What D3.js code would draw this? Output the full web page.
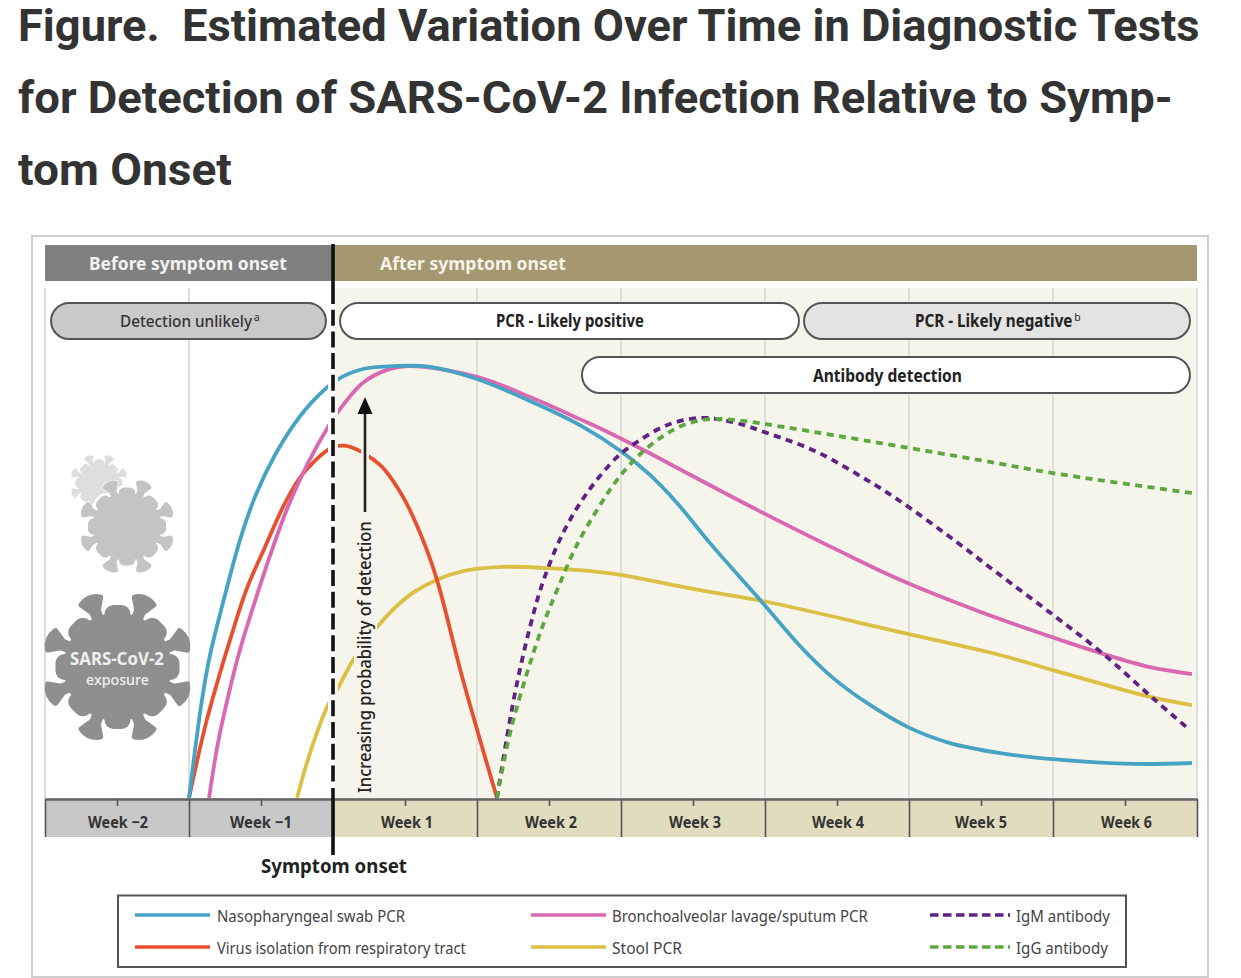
<!DOCTYPE html>
<html>
<head>
<meta charset="utf-8">
<script src="https://cdn.jsdelivr.net/npm/d3@7"></script>
<style>
  html, body { margin: 0; padding: 0; background: #fff; }
  svg { display: block; }
  text { font-family: "Noto Sans", "Open Sans", sans-serif; }
  text.title { font-family: Roboto, "Noto Sans", sans-serif; }
</style>
</head>
<body>
<svg id="svg" width="1241" height="978"></svg>
<script>
// Weeks relative to symptom onset, probability relative to the highest peak
const naso_t = [-1, -0.958, -0.91, -0.854, -0.75, -0.646, -0.542, -0.403, -0.264, -0.125, 0.028, 0.208, 0.444, 0.674, 1, 1.368, 1.715, 2.007, 2.201, 2.389, 2.618, 2.986, 3.243, 3.472, 3.708, 3.993, 4.285, 4.632, 5, 5.556, 5.965];
const naso_p = [0, 11.1, 22.7, 33.1, 47, 59.7, 69.7, 79.4, 86.8, 92.4, 96.8, 99.3, 100, 99.8, 97, 91.9, 86.3, 80.1, 74.8, 68.3, 59, 45.1, 35.2, 27.8, 22, 16.4, 12.7, 10.4, 9, 7.9, 8.1];

const balf_t = [-0.861, -0.799, -0.729, -0.646, -0.521, -0.424, -0.313, -0.174, -0.035, 0.028, 0.208, 0.375, 0.535, 1, 1.368, 1.715, 1.854, 2.153, 2.549, 2.986, 3.472, 3.938, 4.493, 5.049, 5.326, 5.674, 5.965];
const balf_p = [0, 12.7, 23.4, 34.3, 47.7, 57.4, 67.4, 77.5, 85.9, 89.1, 96.1, 99.1, 100, 97.5, 92.8, 87.7, 85.6, 80.6, 73.6, 66, 57.9, 50.5, 43.1, 36.6, 33.6, 30.3, 28.7];

const virus_t = [-1, -0.889, -0.799, -0.715, -0.597, -0.472, -0.333, -0.215, -0.035, 0.035, 0.118, 0.326, 0.486, 0.625, 0.722, 0.903, 1.139];
const virus_p = [0, 16.4, 27.3, 36.6, 48.6, 58.1, 68.3, 74.8, 80.6, 81.5, 81.3, 77.1, 69.7, 59.7, 50.5, 27.3, 0];

const stool_t = [-0.25, -0.16, -0.035, 0.028, 0.139, 0.306, 0.514, 0.722, 0.903, 1.181, 1.486, 1.854, 2.007, 2.549, 2.986, 3.938, 4.632, 5, 5.674, 5.965];
const stool_p = [0, 10.4, 21.5, 25, 31.9, 39.6, 46.5, 50.5, 52.5, 53.5, 53.2, 52.3, 51.6, 48.1, 45.6, 38.4, 33.1, 29.6, 23.4, 21.5];

const igm_t = [1.139, 1.208, 1.278, 1.368, 1.458, 1.597, 1.764, 1.972, 2.111, 2.319, 2.549, 2.778, 3.014, 3.361, 3.708, 3.917, 4.285, 4.632, 5, 5.34, 5.694, 5.951];
const igm_p = [0, 14.1, 26.6, 39.6, 50, 61.3, 70.6, 78.9, 82.4, 86.3, 88, 87, 84.5, 80.1, 73.6, 69.2, 60.4, 51.6, 42.4, 33.6, 23.1, 15.7];

const igg_t = [1.139, 1.229, 1.347, 1.458, 1.556, 1.694, 1.868, 1.972, 2.111, 2.271, 2.431, 2.618, 2.847, 3.125, 3.472, 3.917, 4.493, 5, 5.965];
const igg_p = [0, 15, 28.9, 40, 48.1, 58.6, 68.5, 73.6, 78.9, 83.3, 86.3, 87.7, 87.3, 85.9, 84, 81.5, 78.2, 75.2, 70.6];

const weekEdges = [-2, -1, 0, 1, 2, 3, 4, 5, 6];
const weekMids = [-1.5, -0.5, 0.5, 1.5, 2.5, 3.5, 4.5, 5.5];
const weekLabels = ["Week \u22122", "Week \u22121", "Week 1", "Week 2", "Week 3", "Week 4", "Week 5", "Week 6"];

const svg = d3.select("#svg");

const x = d3.scaleLinear().domain([-2, 6]).range([45, 1197]);
const y = d3.scaleLinear().domain([0, 100]).range([798, 366]);

// Text is squeezed horizontally to the measured width, the original face is condensed
function label(parent, str, left, base, width, size, weight, fill, opts = {}) {
    const t = parent.append("text")
        .attr("class", opts.cls || null)
        .attr("font-size", size)
        .attr("font-weight", weight)
        .attr("fill", fill)
        .text(str);
    if (opts.sup) {
        t.append("tspan").attr("dy", -6).attr("dx", 2).attr("font-size", size * 0.68)
            .attr("font-weight", 400).text(opts.sup);
    }
    const sx = width / t.node().getComputedTextLength();
    const rot = opts.rotate ? ` rotate(${opts.rotate})` : "";
    t.attr("transform", `translate(${left},${base})${rot} scale(${sx},1)`);
    return t;
}

// Outer frame
svg.append("rect").attr("x", 32).attr("y", 236).attr("width", 1176).attr("height", 741)
    .attr("fill", "#fff").attr("stroke", "#cfcfcf").attr("stroke-width", 2);

// Title
const titleColor = "#333";
label(svg, "Figure.\u00a0 Estimated Variation Over Time in Diagnostic Tests", 18, 41, 1182, 44, 700, titleColor, { cls: "title" });
label(svg, "for Detection of SARS-CoV-2 Infection Relative to Symp-", 18, 113, 1155, 44, 700, titleColor, { cls: "title" });
label(svg, "tom Onset", 18, 185, 214, 44, 700, titleColor, { cls: "title" });

// Header bars
svg.append("rect").attr("x", x(-2)).attr("y", 245).attr("width", x(0) - x(-2)).attr("height", 36).attr("fill", "#808080");
svg.append("rect").attr("x", x(0)).attr("y", 245).attr("width", x(6) - x(0)).attr("height", 36).attr("fill", "#a5976f");
label(svg, "Before symptom onset", 89, 270, 198, 18.5, 700, "#f2f2f2");
label(svg, "After symptom onset", 380, 270, 186, 18.5, 700, "#f5f3ea");

// Plot background and week gridlines
svg.append("rect").attr("x", x(0)).attr("y", 288).attr("width", x(6) - x(0)).attr("height", 510).attr("fill", "#f6f5ec");
svg.selectAll(".grid").data(weekEdges).join("line")
    .attr("class", "grid")
    .attr("x1", d => x(d)).attr("x2", d => x(d))
    .attr("y1", 288).attr("y2", 798)
    .attr("stroke", "#dfdfda").attr("stroke-width", 2);

// Week band under the plot
svg.append("rect").attr("x", x(-2)).attr("y", 798).attr("width", x(0) - x(-2)).attr("height", 39).attr("fill", "#c8c8c8");
svg.append("rect").attr("x", x(0)).attr("y", 798).attr("width", x(6) - x(0)).attr("height", 39).attr("fill", "#e0dcbd");

const edgeAxis = svg.append("g").attr("transform", "translate(0,799)")
    .call(d3.axisBottom(x).tickValues(weekEdges).tickSize(38).tickSizeOuter(0).tickFormat(""));
const midAxis = svg.append("g").attr("transform", "translate(0,799)")
    .call(d3.axisBottom(x).tickValues(weekMids).tickSize(7).tickSizeOuter(0).tickFormat(""));
edgeAxis.selectAll("line").attr("stroke", "#555").attr("stroke-width", 1.6);
edgeAxis.select(".domain").attr("stroke", "#666").attr("stroke-width", 2.4);
midAxis.selectAll("line").attr("stroke", "#555").attr("stroke-width", 1.6);
midAxis.select(".domain").remove();

const weekLefts = [88, 230, 381, 525, 669, 812, 955, 1101];
const weekWidths = [60, 62, 52, 52, 52, 52, 52, 51];
weekLabels.forEach((d, i) => label(svg, d, weekLefts[i], 828, weekWidths[i], 16.5, 700, "#333"));

// Series
const line = d3.line()
    .x(d => x(d[0]))
    .y(d => y(d[1]))
    .curve(d3.curveCatmullRom.alpha(0.5));

const series = [
    { name: "Stool PCR", t: stool_t, p: stool_p, color: "#dcbf45", dash: null },
    { name: "Virus isolation from respiratory tract", t: virus_t, p: virus_p, color: "#e6502e", dash: null },
    { name: "Bronchoalveolar lavage/sputum PCR", t: balf_t, p: balf_p, color: "#d868b2", dash: null },
    { name: "Nasopharyngeal swab PCR", t: naso_t, p: naso_p, color: "#47a3c4", dash: null },
    { name: "IgM antibody", t: igm_t, p: igm_p, color: "#5f2183", dash: "7 5.5" },
    { name: "IgG antibody", t: igg_t, p: igg_p, color: "#5ca83f", dash: "7 5.5" }
];

svg.selectAll(".series").data(series).join("path")
    .attr("class", "series")
    .attr("d", d => line(d3.zip(d.t, d.p)))
    .attr("fill", "none")
    .attr("stroke", d => d.color)
    .attr("stroke-width", 3.8)
    .attr("stroke-dasharray", d => d.dash);

// Increasing probability arrow, cream halo cuts the curves behind it
const arrowX = 365;
svg.append("rect").attr("x", 354).attr("y", 517).attr("width", 23).attr("height", 279).attr("fill", "#f6f5ec");
svg.append("line").attr("x1", arrowX).attr("x2", arrowX).attr("y1", 397).attr("y2", 512)
    .attr("stroke", "#f6f5ec").attr("stroke-width", 8);
svg.append("line").attr("x1", arrowX).attr("x2", arrowX).attr("y1", 410).attr("y2", 512)
    .attr("stroke", "#222").attr("stroke-width", 2.6);
svg.append("path").attr("d", d3.line()([[arrowX, 397], [arrowX + 7.5, 414], [arrowX - 7.5, 414]]) + "Z").attr("fill", "#111");
label(svg, "Increasing probability of detection", 371, 793, 272, 17.5, 500, "#222", { rotate: -90 });

// Symptom onset marker
svg.append("rect").attr("x", 328).attr("y", 288).attr("width", 7).attr("height", 510).attr("fill", "#fff");
svg.append("rect").attr("x", 335).attr("y", 288).attr("width", 3).attr("height", 510).attr("fill", "#f6f5ec");
svg.append("line").attr("x1", x(0)).attr("x2", x(0)).attr("y1", 244).attr("y2", 288)
    .attr("stroke", "#111").attr("stroke-width", 3.6);
svg.append("line").attr("x1", x(0)).attr("x2", x(0)).attr("y1", 288).attr("y2", 786)
    .attr("stroke", "#111").attr("stroke-width", 3.6).attr("stroke-dasharray", "16 5.7");
svg.append("line").attr("x1", x(0)).attr("x2", x(0)).attr("y1", 788).attr("y2", 855)
    .attr("stroke", "#111").attr("stroke-width", 3.6);
label(svg, "Symptom onset", 261, 873, 146, 20, 700, "#222");

// Stage pills, spans given in weeks
const pillStart = [-1.958, 0.049, 3.271, 1.729];
const pillEnd = [-0.049, 3.236, 5.951, 5.951];
const pillRow = [303, 303, 303, 357];
const pillFill = ["#c9c9c9", "#fff", "#e3e3e3", "#fff"];
pillStart.forEach((d, i) => {
    svg.append("rect")
        .attr("x", x(d)).attr("y", pillRow[i])
        .attr("width", x(pillEnd[i]) - x(d)).attr("height", 36)
        .attr("rx", 18).attr("ry", 18)
        .attr("fill", pillFill[i]).attr("stroke", "#555").attr("stroke-width", 2);
});
label(svg, "Detection unlikely", 120, 327, 138, 17, 500, "#333", { sup: "a" });
label(svg, "PCR - Likely positive", 496, 327, 148, 17, 700, "#222");
label(svg, "PCR - Likely negative", 915, 327, 164, 17, 700, "#222", { sup: "b" });
label(svg, "Antibody detection", 813, 382, 149, 17, 700, "#222");

// Virus pictograms
function drawVirus(cx, cy, k, fill, edge) {
    const g = svg.append("g").attr("transform", `translate(${cx},${cy}) scale(${k})`);
    const spikeAngles = [22, 68, 112, 158, 202, 248, 292, 338];
    const bumpAngles = [0, 45, 90, 135, 180, 225, 270, 315];
    const shapes = g.append("g");
    spikeAngles.forEach(a => {
        shapes.append("path")
            .attr("transform", `rotate(${a})`)
            .attr("d", "M-3,-52 L-3,-60 L-10,-71 Q0,-77 10,-71 L3,-60 L3,-52Z")
            .attr("fill", fill).attr("stroke", fill).attr("stroke-width", 6).attr("stroke-linejoin", "round");
    });
    bumpAngles.forEach(a => {
        shapes.append("rect")
            .attr("transform", `rotate(${a})`)
            .attr("x", -13).attr("y", -62).attr("width", 26).attr("height", 20).attr("rx", 9)
            .attr("fill", fill);
    });
    shapes.append("circle").attr("r", 54).attr("fill", fill);
    if (edge) {
        // white outline sits behind a copy of the shape
        const clone = shapes.node().cloneNode(true);
        shapes.selectAll("*").attr("fill", "#fff").attr("stroke", "#fff").attr("stroke-width", 8);
        g.node().appendChild(clone);
    }
}
drawVirus(99, 483, 0.38, "#dedede", false);
drawVirus(127, 526.5, 0.63, "#c4c4c4", true);
drawVirus(117.5, 667, 1, "#8f8f8f", false);
label(svg, "SARS-CoV-2", 70, 665, 94, 17, 700, "#efefef");
label(svg, "exposure", 86, 685, 63, 15, 500, "#efefef");

// Legend
svg.append("rect").attr("x", 118).attr("y", 895.5).attr("width", 1008).attr("height", 71.5)
    .attr("fill", "#fff").attr("stroke", "#555").attr("stroke-width", 2);

const legendNames = ["Nasopharyngeal swab PCR", "Virus isolation from respiratory tract", "Bronchoalveolar lavage/sputum PCR", "Stool PCR", "IgM antibody", "IgG antibody"];
const legendLineX = [135, 135, 531, 531, 930, 930];
const legendLineW = [75, 75, 75, 75, 80, 80];
const legendTextX = [217, 217, 612, 612, 1016, 1016];
const legendTextW = [188, 249, 256, 70, 94, 92];
const legendRowY = [915, 947, 915, 947, 915, 947];
legendNames.forEach((name, i) => {
    const s = series.find(d => d.name === name);
    svg.append("line")
        .attr("x1", legendLineX[i]).attr("x2", legendLineX[i] + legendLineW[i])
        .attr("y1", legendRowY[i]).attr("y2", legendRowY[i])
        .attr("stroke", s.color).attr("stroke-width", 3.4)
        .attr("stroke-dasharray", s.dash ? "8.5 4.5" : null);
    label(svg, name, legendTextX[i], legendRowY[i] + 6.5, legendTextW[i], 16.5, 400, "#444");
});
</script>
</body>
</html>
